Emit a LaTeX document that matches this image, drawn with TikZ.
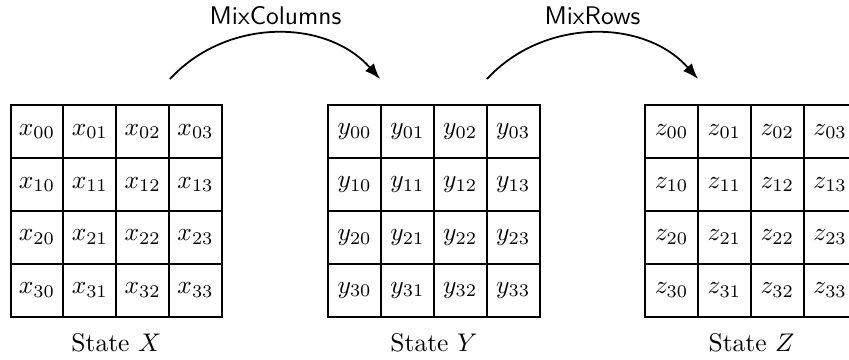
\documentclass[tikz,border=0pt]{standalone}
\usetikzlibrary{arrows.meta}
\begin{document}
\begin{tikzpicture}[x=0.39216pt,y=-0.39216pt,
  cell/.style={draw,line width=0.8pt,minimum width=20.73pt,minimum height=20.73pt,inner sep=0pt,anchor=center},
  statelabel/.style={anchor=base,inner sep=0pt},
  oplabel/.style={anchor=base,inner sep=0pt,font=\sffamily},
  mixarrow/.style={-{Latex},line width=0.7pt}]
\clip (0,0) rectangle (849,360);
\foreach \n/\ox in {x/10.6,y/328.2,z/645.2}{
  \foreach \r in {0,...,3}{
    \foreach \c in {0,...,3}{
      \node[cell] (\n\r\c) at ({\ox+26.4+52.85*\c},{105.2+26.4+52.85*\r}) {$\n_{\r\c}$};
    }
  }
}
\node[statelabel] (sx) at (116.3,352) {State $X$};
\node[statelabel] (sy) at (434,352) {State $Y$};
\node[statelabel] (sz) at (751.5,352) {State $Z$};
\coordinate (a1s) at (170,79);
\coordinate (a1e) at (380,79);
\coordinate (a2s) at (487,79);
\coordinate (a2e) at (698,79);
\draw[mixarrow] (a1s) .. controls (226,18) and (326,18) .. (a1e);
\draw[mixarrow] (a2s) .. controls (543,18) and (644,18) .. (a2e);
\node[oplabel] (l1) at (275.5,25) {MixColumns};
\node[oplabel] (l2) at (592.5,25) {MixRows};
\end{tikzpicture}
\end{document}
